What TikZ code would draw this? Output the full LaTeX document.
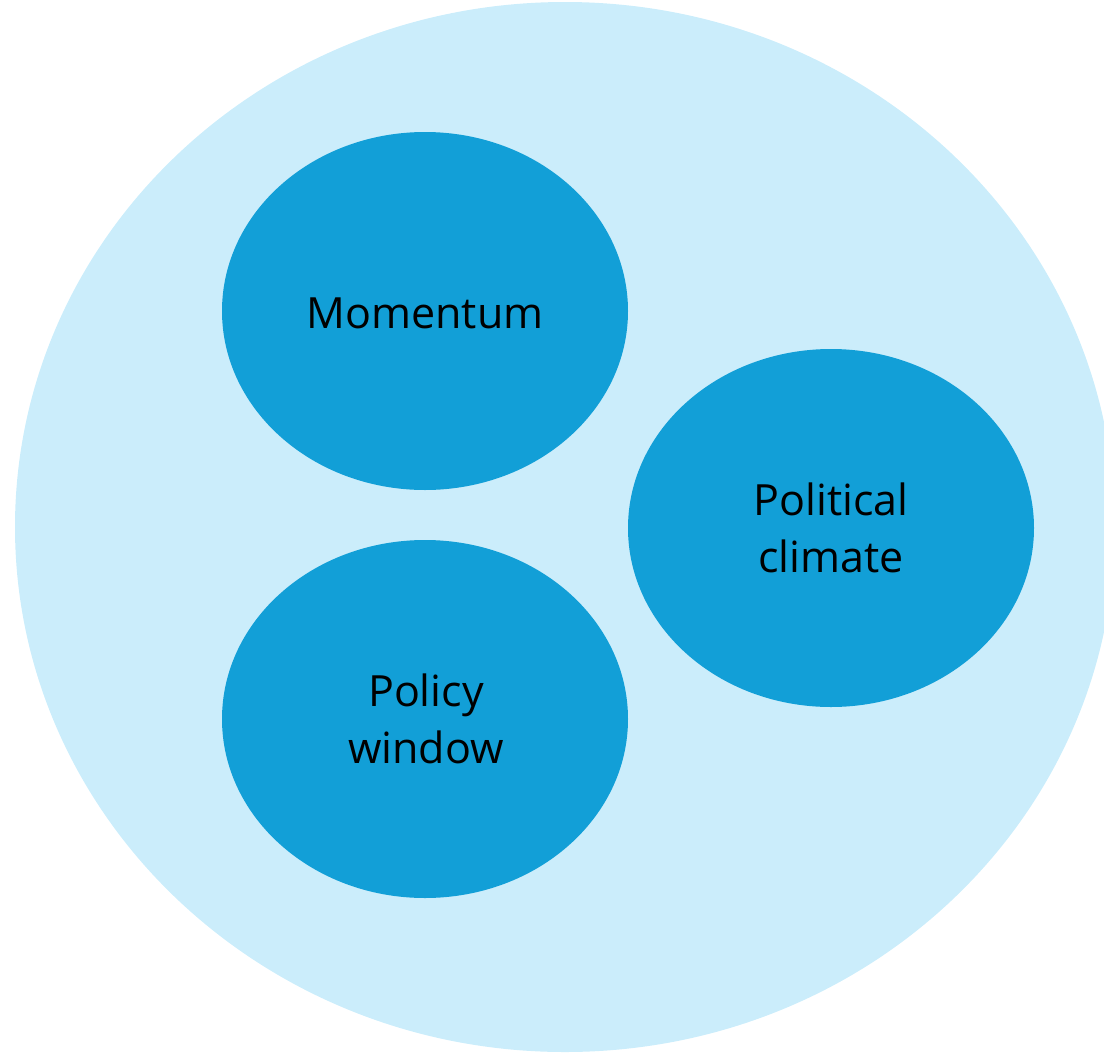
\documentclass[tikz,border=0pt]{standalone}
\usepackage{fontspec}
\setmainfont{Open Sans}
\definecolor{outerblue}{HTML}{CBEDFB}
\definecolor{innerblue}{HTML}{129FD7}
\begin{document}
\begin{tikzpicture}[x=1pt,y=-1pt,
  lbl/.style={font=\fontsize{43}{57}\selectfont, align=center, text=black}]
\useasboundingbox (0,0) rectangle (1104,1053);
\clip (0,0) rectangle (1104,1053);
\fill[outerblue] (565,527) ellipse [x radius=550, y radius=525];
\fill[innerblue] (425,311) ellipse [x radius=203, y radius=179];
\fill[innerblue] (425,719) ellipse [x radius=203, y radius=179];
\fill[innerblue] (831,528) ellipse [x radius=203, y radius=179];
\node[lbl] (mom) at (425,313) {Momentum};
\node[lbl] (pol) at (426,719) {Policy\\window};
\node[lbl] (cli) at (831,528) {Political\\climate};
\end{tikzpicture}
\end{document}
